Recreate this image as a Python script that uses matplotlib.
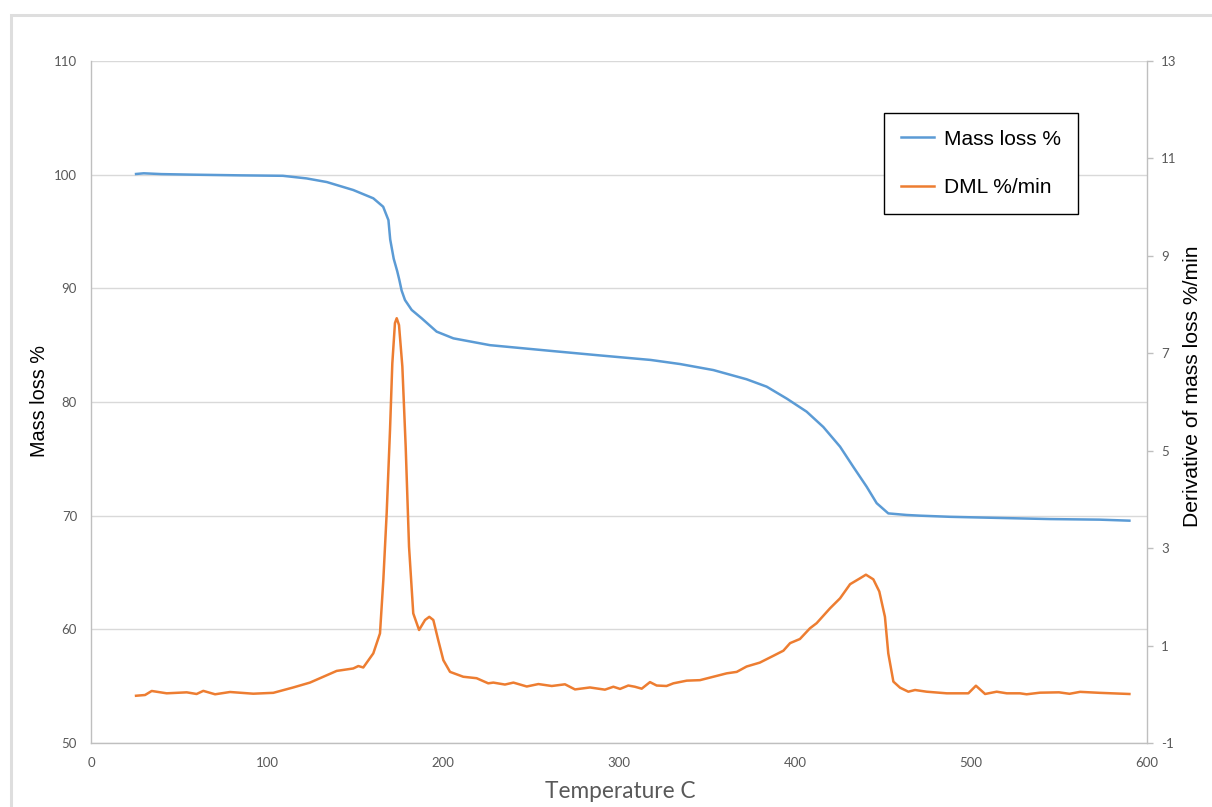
import matplotlib
matplotlib.use("Agg")
import matplotlib.pyplot as plt
from matplotlib.patches import Rectangle

plt.rcParams["axes.unicode_minus"] = False

# Thermogravimetric data: temperature (C) vs. remaining mass (%)
temp_mass = [25.6, 30, 40, 58, 84.7, 109, 122.5, 134, 149, 160.4, 166, 169,
             170, 172, 174, 175.2, 176.5, 178.4, 182.2, 187.9, 196.4, 205.9,
             226.7, 261, 289, 318, 334.7, 353.6, 372.5, 383.9, 395.3, 406.6,
             416.1, 425.6, 433.1, 440.7, 446.4, 453, 463.5, 471, 488, 516,
             545, 573, 590]
mass_loss = [100.06, 100.12, 100.05, 100.0, 99.94, 99.9, 99.67, 99.35, 98.65,
             97.92, 97.18, 96.0, 94.3, 92.6, 91.5, 90.73, 89.8, 88.97, 88.1,
             87.36, 86.19, 85.6, 85.0, 84.5, 84.1, 83.7, 83.34, 82.81, 82.0,
             81.35, 80.3, 79.15, 77.8, 76.07, 74.3, 72.55, 71.1, 70.2, 70.06,
             70.0, 69.9, 69.8, 69.7, 69.65, 69.56]

# Derivative of mass loss (%/min)
temp_dml = [25.6, 30.7, 34.5, 43, 54.4, 60, 63.8, 70.5, 79, 92.2, 103.6,
            114.9, 124.4, 132, 139.6, 149, 151.9, 154.7, 160.4, 164.2, 166.1,
            168, 169.9, 171.2, 172.7, 173.7, 175, 176.9, 178.8, 180.7, 183.1,
            186.4, 189.8, 192.2, 194.5, 197.3, 200.2, 204, 211.5, 219.1,
            225.7, 228.6, 235.2, 240, 247.6, 254.2, 261.8, 269.3, 275, 283.5,
            292, 296.8, 300.6, 305.3, 309, 312.9, 317.6, 321.4, 327, 330.9,
            338.5, 346, 353.6, 361.2, 366.9, 372.5, 380, 387.7, 393.4, 397.2,
            402.8, 408.5, 412.3, 419.9, 425.6, 431.3, 436.9, 440.3, 444.5,
            447.9, 451.1, 453, 455.9, 459.7, 464.4, 468.2, 474.8, 486.2,
            498.5, 502.8, 508, 514.6, 520.3, 527.8, 531.6, 539.2, 550, 556,
            562, 573, 580, 590]
dml = [-0.03, -0.015, 0.068, 0.02, 0.04, 0.006, 0.07, 0.0, 0.047, 0.012,
       0.03, 0.14, 0.24, 0.36, 0.48, 0.53, 0.58, 0.55, 0.84, 1.25, 2.35,
       3.72, 5.43, 6.79, 7.62, 7.72, 7.58, 6.73, 5.08, 3.03, 1.66, 1.32,
       1.525, 1.59, 1.525, 1.11, 0.70, 0.46, 0.36, 0.33, 0.225, 0.24, 0.20,
       0.24, 0.16, 0.21, 0.17, 0.205, 0.10, 0.14, 0.095, 0.155, 0.11, 0.18,
       0.155, 0.115, 0.25, 0.18, 0.17, 0.225, 0.28, 0.29, 0.36, 0.43, 0.46,
       0.57, 0.65, 0.79, 0.895, 1.05, 1.135, 1.355, 1.46, 1.765, 1.97, 2.26,
       2.38, 2.455, 2.36, 2.11, 1.59, 0.84, 0.26, 0.135, 0.053, 0.088,
       0.053, 0.02, 0.02, 0.176, 0.006, 0.053, 0.02, 0.02, 0.0, 0.033,
       0.04, 0.01, 0.05, 0.03, 0.02, 0.006]

x_ticks = [0, 100, 200, 300, 400, 500, 600]
left_ticks = [50, 60, 70, 80, 90, 100, 110]
right_ticks = [-1, 1, 3, 5, 7, 9, 11, 13]

BLUE = "#5B9BD5"
ORANGE = "#ED7D31"
GRID = "#d9d9d9"
AXIS = "#bfbfbf"
TICK_TXT = "#595959"

fig = plt.figure(figsize=(12.12, 8.07), dpi=100)
W, H = 1212, 807
ax = fig.add_axes([91 / W, 1 - 743 / H, (1147 - 91) / W, (743 - 61) / H])
ax2 = ax.twinx()

# chart-area border
fig.add_artist(Rectangle((11 / W, -0.05), 1.2, 1 - 15 / H + 0.05,
                         transform=fig.transFigure, fill=False,
                         edgecolor="#dedede", lw=2.2, zorder=-5))

l1, = ax.plot(temp_mass, mass_loss, color=BLUE, lw=1.8, label="Mass loss %")
l2, = ax2.plot(temp_dml, dml, color=ORANGE, lw=1.8, label="DML %/min")

ax.set_xlim(0, 600)
ax.set_ylim(50, 110)
ax2.set_ylim(-1, 13)
ax.set_xticks(x_ticks)
ax.set_yticks(left_ticks)
ax2.set_yticks(right_ticks)

ax.grid(axis="y", color=GRID, lw=1.0)
ax.set_axisbelow(True)

for a in (ax, ax2):
    a.spines["top"].set_visible(False)
    for s in ("left", "bottom", "right"):
        a.spines[s].set_color(AXIS)
        a.spines[s].set_linewidth(1.0)
ax.spines["right"].set_visible(False)
ax2.spines["left"].set_visible(False)
ax2.spines["bottom"].set_visible(False)

ax.tick_params(axis="y", length=0, pad=10, labelcolor=TICK_TXT)
ax.tick_params(axis="x", length=0, pad=10, labelcolor=TICK_TXT)
ax2.tick_params(axis="y", length=4, width=1, color=AXIS, pad=6,
                labelcolor=TICK_TXT)
for lab in ax.get_xticklabels() + ax.get_yticklabels() + ax2.get_yticklabels():
    lab.set_fontfamily("Lato")
    lab.set_fontsize(9.5)

fig.text(40 / W, 1 - 401 / H, "Mass loss %", rotation=90, ha="center",
         va="center", family="Liberation Sans", fontsize=14.3, color="black")
fig.text(1193 / W, 1 - 386 / H, "Derivative of mass loss %/min", rotation=90,
         ha="center", va="center", family="Liberation Sans", fontsize=15.2,
         color="black")
fig.text(620 / W, 1 - 792 / H, "Temperature C", ha="center", va="center",
         family="Lato", fontsize=16.3, color=TICK_TXT)

leg = ax2.legend(handles=[l1, l2], loc="upper left",
                 bbox_to_anchor=(793 / 1056, 1 - 52 / 682),
                 borderaxespad=0.0,
                 prop=dict(family="Liberation Sans", size=15),
                 frameon=True, fancybox=False, framealpha=1,
                 edgecolor="black", borderpad=0.8, labelspacing=1.42,
                 handlelength=1.6, handletextpad=0.5)
leg.get_frame().set_linewidth(1.0)

fig.savefig("out.png", dpi=100)
